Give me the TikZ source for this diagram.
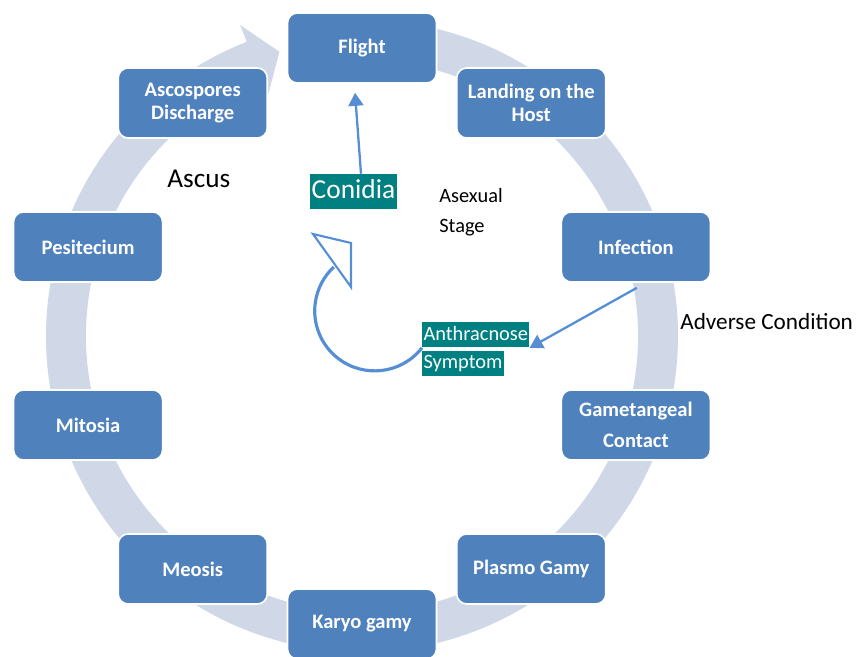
\documentclass[tikz,border=0pt]{standalone}
\usepackage{fontspec}
\setmainfont{Carlito}
\usetikzlibrary{positioning,arrows.meta}

\definecolor{boxblue}{RGB}{79,129,189}
\definecolor{ringgray}{RGB}{208,216,232}
\definecolor{tealbg}{RGB}{0,128,128}
\definecolor{linkblue}{RGB}{85,142,213}

\begin{document}
\begin{tikzpicture}[
  stage/.style={draw=white, line width=0.9pt, fill=boxblue, rounded corners=0.2cm,
    minimum width=2.98cm, minimum height=1.4cm, text=white, align=center,
    font=\fontsize{11.7}{12.8}\selectfont\bfseries},
  tag/.style={fill=tealbg, text=white, inner xsep=0.7pt, inner ysep=1.3pt,
    text height=8.8pt, text depth=2.9pt, font=\fontsize{11.6}{14}\selectfont},
  note/.style={inner sep=0pt, font=\fontsize{11.6}{14}\selectfont},
  link/.style={linkblue, line width=1.3pt, -{Triangle[length=0.26cm, width=0.3cm]}}
]
\useasboundingbox (-7.24,-6.42) rectangle (9.92,6.72);

% cycle arrow behind the stages
\fill[ringgray] (85:6.32) arc[start angle=85, end angle=-248.6, radius=6.32]
  -- (-248.6:6.68) -- (-253.8:5.92) -- (-248.6:5.16) -- (-248.6:5.52)
  arc[start angle=-248.6, end angle=85, radius=5.52] -- cycle;

% stages of the life cycle
\foreach \ang/\name/\txt in {90/flight/Flight, 54/landing/{Landing on the\\Host},
    18/infection/Infection, -18/gamet/{Gametangeal\\[4.6pt]Contact}, -54/plasmo/Plasmo Gamy,
    -90/karyo/Karyo gamy, -126/meosis/Meosis, -162/mitosia/Mitosia,
    162/pesit/Pesitecium, 126/ascosp/{Ascospores\\Discharge}}
  \node[stage] (\name) at (\ang:5.76) {\txt};

% labels inside the cycle
\node[inner sep=0pt, anchor=base west, font=\fontsize{15.5}{18}\selectfont] (ascus) at (-3.9,2.96) {Ascus};
\node[tag, inner xsep=1.1pt, inner ysep=2.1pt, text height=11.7pt, text depth=3.9pt,
  font=\fontsize{15.6}{18}\selectfont] (conidia) at (-0.17,2.89) {Conidia};
\node[note, anchor=base west] (asexual) at (1.54,2.66) {Asexual};
\node[note, anchor=base west] (stg) at (1.54,2.06) {Stage};
\node[note, anchor=base west, font=\fontsize{13.2}{16}\selectfont] (adverse) at (6.36,0.12) {Adverse Condition};
\node[tag, anchor=north west] (anthr) at (1.2,0.28) {Anthracnose};
\node[tag, anchor=north west] (sympt) at ([yshift=-0.06cm]anthr.south west) {Symptom};

% asexual arrows
\draw[link] ([xshift=0.15cm]conidia.north) -- ([xshift=-0.14cm,yshift=-0.18cm]flight.south);
\draw[link] ([xshift=0.02cm,yshift=-0.1cm]infection.south) -- (anthr.south east);
\draw[linkblue, line width=1.8pt] (anthr.south west) arc[start angle=-38, end angle=-227, radius=1.2cm];
\draw[linkblue, line width=1.2pt, fill=white] (-0.98,2.04) -- (-0.22,1.86) -- (-0.22,0.98) -- cycle;

\end{tikzpicture}
\end{document}
